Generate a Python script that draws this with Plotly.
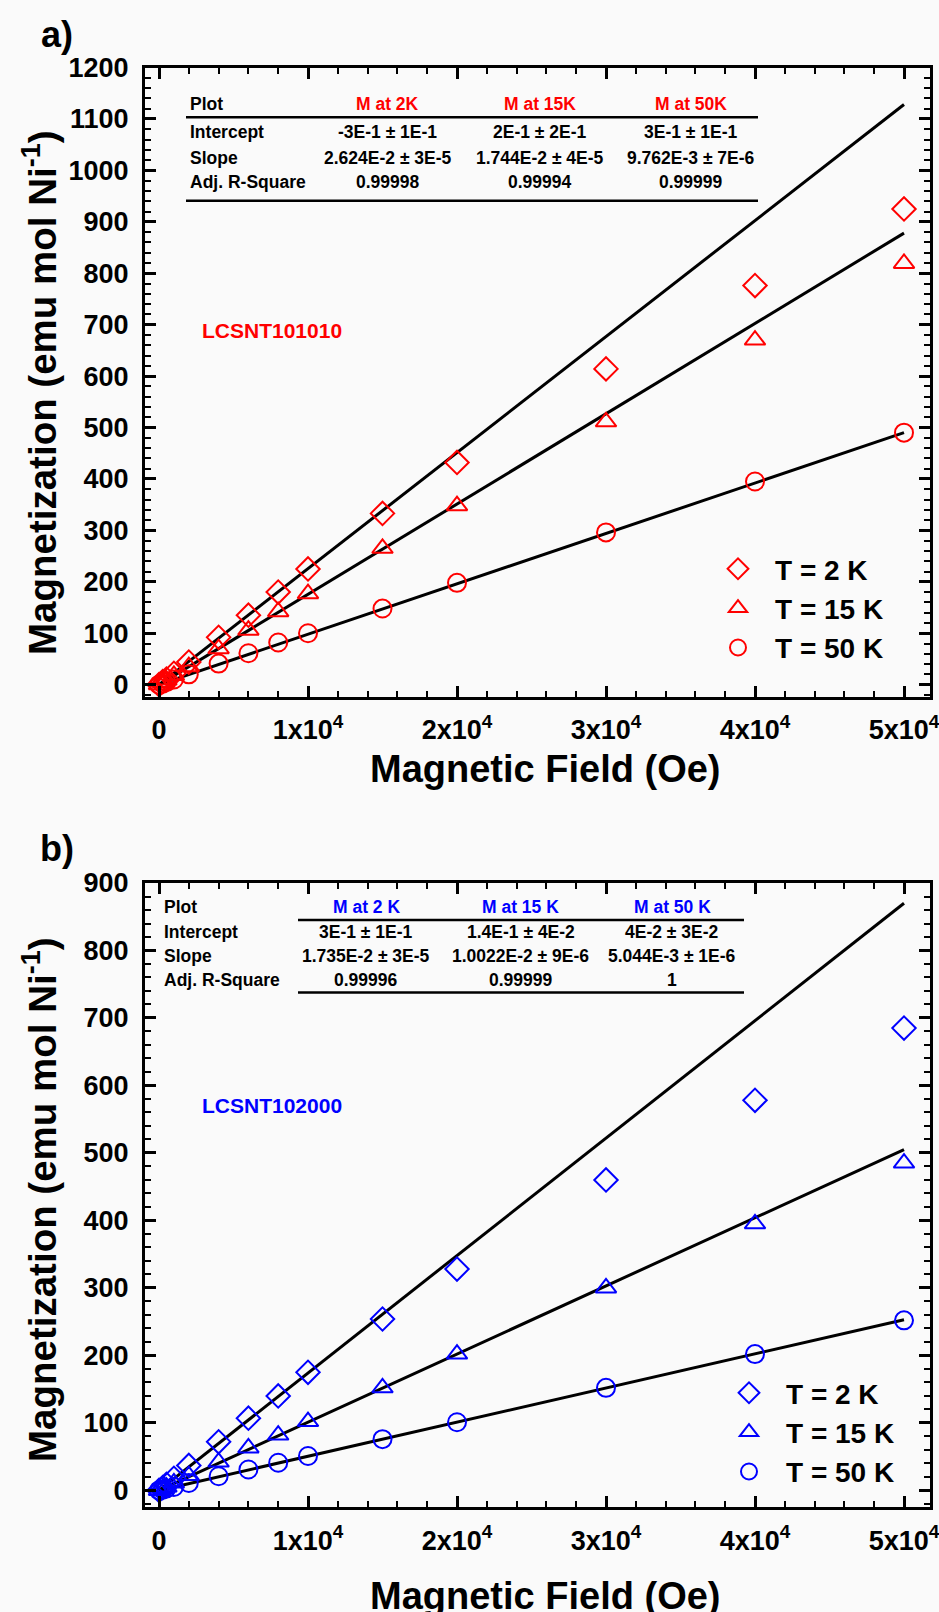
import plotly.graph_objects as go

# ---------------- data ----------------
field = [0, 250, 500, 1000, 2000, 4000, 6000, 8000, 10000, 15000, 20000, 30000, 40000, 50000]

a_M_2K = [0, 6, 11, 22, 44, 92, 135, 180, 225, 333, 432, 614, 776, 925]
a_M_15K = [0, 4, 9, 18, 35, 70, 106, 142, 177, 265, 348, 511, 670, 819]
a_M_50K = [0, 2, 5, 10, 20, 41, 61, 82, 100, 148, 198, 296, 395, 490]

b_M_2K = [0, 4, 9, 18, 37, 72, 107, 140, 175, 254, 328, 460, 578, 685]
b_M_15K = [0, 3, 5, 11, 22, 42, 63, 82, 102, 152, 202, 300, 395, 485]
b_M_50K = [0, 1, 3, 5, 11, 21, 31, 41, 51, 76, 101, 152, 202, 252]

fit_field = [0, 50000]
a_fit_2K = [0, 1128]
a_fit_15K = [0, 878]
a_fit_50K = [0, 490]
b_fit_2K = [0, 870]
b_fit_15K = [0, 505]
b_fit_50K = [0, 253]

legend_names = ["T = 2 K", "T = 15 K", "T = 50 K"]
symbols = ["diamond-open", "triangle-up-open", "circle-open"]

x_tickvals = [0, 10000, 20000, 30000, 40000, 50000]
x_ticktext = ["0", "1x10<sup>4</sup>", "2x10<sup>4</sup>", "3x10<sup>4</sup>",
              "4x10<sup>4</sup>", "5x10<sup>4</sup>"]

row_labels = ["Plot", "Intercept", "Slope", "Adj. R-Square"]
a_cols = ["M at 2K", "M at 15K", "M at 50K"]
a_intercept = ["-3E-1 ± 1E-1", "2E-1 ± 2E-1", "3E-1 ± 1E-1"]
a_slope = ["2.624E-2 ± 3E-5", "1.744E-2 ± 4E-5", "9.762E-3 ± 7E-6"]
a_r2 = ["0.99998", "0.99994", "0.99999"]
b_cols = ["M at 2 K", "M at 15 K", "M at 50 K"]
b_intercept = ["3E-1 ± 1E-1", "1.4E-1 ± 4E-2", "4E-2 ± 3E-2"]
b_slope = ["1.735E-2 ± 3E-5", "1.0022E-2 ± 9E-6", "5.044E-3 ± 1E-6"]
b_r2 = ["0.99996", "0.99999", "1"]

# ---------------- layout helpers ----------------
W, H = 939, 1612
FONT = "Liberation Sans, Arial, sans-serif"
RED = "#ff0000"
BLUE = "#0000ff"
BG = "#fafafa"


def px(x):
    return x / W


def py(y):
    return 1 - y / H


fig = go.Figure()

panels = [
    dict(xa="x", ya="y", leg="legend", color=RED,
         data=[a_M_2K, a_M_15K, a_M_50K], fits=[a_fit_2K, a_fit_15K, a_fit_50K]),
    dict(xa="x2", ya="y2", leg="legend2", color=BLUE,
         data=[b_M_2K, b_M_15K, b_M_50K], fits=[b_fit_2K, b_fit_15K, b_fit_50K]),
]

for p in panels:
    for fit in p["fits"]:
        fig.add_trace(go.Scatter(x=fit_field, y=fit, mode="lines",
                                 line=dict(color="black", width=3),
                                 xaxis=p["xa"], yaxis=p["ya"], showlegend=False,
                                 hoverinfo="skip"))
    for name, sym, vals in zip(legend_names, symbols, p["data"]):
        fig.add_trace(go.Scatter(x=field, y=vals, mode="markers", name=name,
                                 marker=dict(symbol=sym, size=18, color=p["color"],
                                             line=dict(color=p["color"], width=2)),
                                 xaxis=p["xa"], yaxis=p["ya"], legend=p["leg"]))

x_dom = [px(145), px(930)]
ax_common = dict(showline=True, linecolor="black", linewidth=3, mirror="allticks",
                 ticks="inside", ticklen=11, tickwidth=2.5, tickcolor="black",
                 showgrid=False, zeroline=False, automargin=False,
                 tickfont=dict(family=FONT, size=27, color="black", weight="bold"))

xaxis_cfg = dict(ax_common, range=[-940, 51745], domain=x_dom,
                 tickmode="array", tickvals=x_tickvals, ticktext=x_ticktext,
                 ticklabelstandoff=7, ticklabeloverflow="allow",
                 minor=dict(dtick=2000, tick0=0, ticks="inside", ticklen=6,
                            tickwidth=2, tickcolor="black"))

yaxis_a = dict(ax_common, range=[-24, 1200], domain=[py(697), py(67.5)],
               tickmode="linear", tick0=0, dtick=100, ticklabelstandoff=8,
               minor=dict(dtick=20, tick0=0, ticks="inside", ticklen=6,
                          tickwidth=2, tickcolor="black"))
yaxis_b = dict(ax_common, range=[-25, 900], domain=[py(1507.3), py(883)],
               tickmode="linear", tick0=0, dtick=100, ticklabelstandoff=8,
               minor=dict(dtick=20, tick0=0, ticks="inside", ticklen=6,
                          tickwidth=2, tickcolor="black"))

fig.update_layout(
    width=W, height=H,
    margin=dict(l=0, r=0, t=0, b=0, autoexpand=False),
    paper_bgcolor=BG, plot_bgcolor=BG,
    xaxis=dict(xaxis_cfg, anchor="y"),
    yaxis=dict(yaxis_a, anchor="x"),
    xaxis2=dict(xaxis_cfg, anchor="y2"),
    yaxis2=dict(yaxis_b, anchor="x2"),
    legend=dict(x=px(701), y=py(544), xanchor="left", yanchor="top",
                bgcolor="rgba(0,0,0,0)", itemwidth=64,
                font=dict(family=FONT, size=28, color="black", weight="bold")),
    legend2=dict(x=px(712), y=py(1368), xanchor="left", yanchor="top",
                 bgcolor="rgba(0,0,0,0)", itemwidth=64,
                 font=dict(family=FONT, size=28, color="black", weight="bold")),
    showlegend=True,
)

annotations = []
shapes = []


def txt(x, y, s, size, color="black", xanchor="center", angle=0):
    annotations.append(dict(x=px(x), y=py(y), xref="paper", yref="paper", text=s,
                            showarrow=False, xanchor=xanchor, yanchor="middle",
                            textangle=angle,
                            font=dict(family=FONT, size=size, color=color, weight="bold")))


# panel labels
txt(57, 34, "a)", 36)
txt(57, 848, "b)", 36)

# axis titles
ytitle = "Magnetization (emu mol Ni<sup>-1</sup>)"
txt(40, 393, ytitle, 38.5, angle=-90)
txt(40, 1200, ytitle, 38.5, angle=-90)
txt(545, 769, "Magnetic Field (Oe)", 38)
txt(545, 1596, "Magnetic Field (Oe)", 38)

# sample names
txt(272, 330, "LCSNT101010", 21, color=RED)
txt(272, 1105, "LCSNT102000", 21, color=BLUE)


def table(rows_y, label_x, col_x, cols, inter, slope, r2, head_color, line_x, lines_y, size):
    cells = [cols, inter, slope, r2]
    for i, (lab, ry) in enumerate(zip(row_labels, rows_y)):
        txt(label_x, ry, lab, size, xanchor="left")
        for cx, val in zip(col_x, cells[i]):
            txt(cx, ry, val, size, color=head_color if i == 0 else "black")
    for j, ly in enumerate(lines_y):
        shapes.append(dict(type="line", xref="paper", yref="paper",
                           x0=px(line_x[j][0]), x1=px(line_x[j][1]), y0=py(ly), y1=py(ly),
                           line=dict(color="black", width=2.5)))


table([103.5, 131.7, 158.3, 181.7], 188, [387.5, 539.7, 690.5],
      a_cols, a_intercept, a_slope, a_r2, RED,
      [(186, 758), (186, 758)], [117.3, 200.7], 17.5)
table([907, 932, 955.5, 980], 162, [366, 520.5, 672],
      b_cols, b_intercept, b_slope, b_r2, BLUE,
      [(298, 744), (298, 744)], [920, 992.5], 17.5)

fig.update_layout(annotations=annotations, shapes=shapes)

fig.write_html("out.html")
